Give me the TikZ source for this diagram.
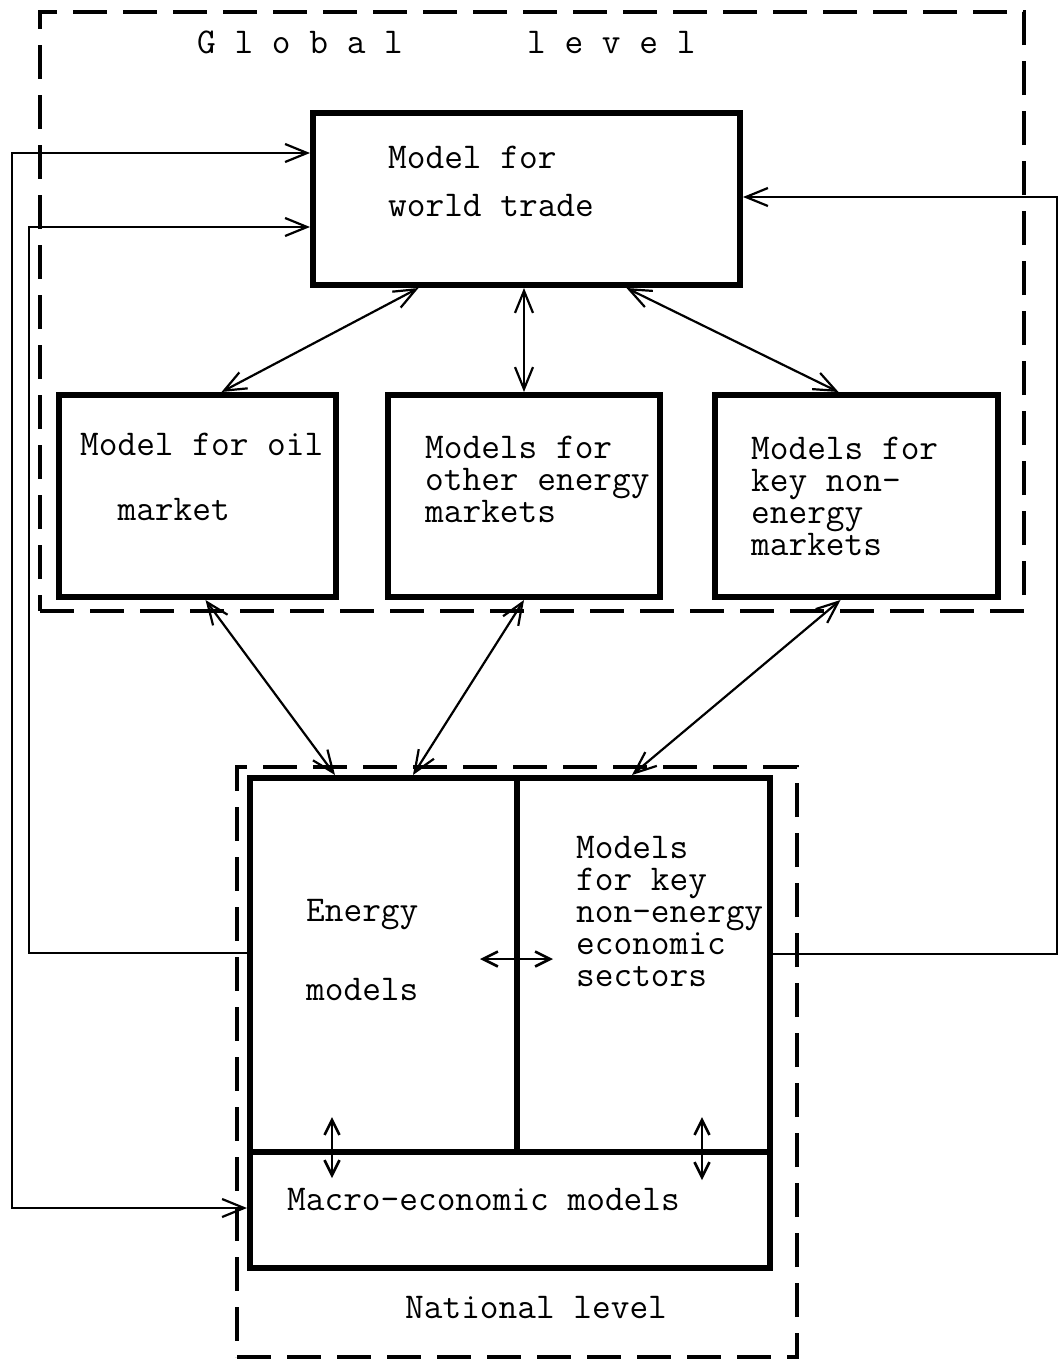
\documentclass[tikz,border=0pt]{standalone}
\usepackage{fontspec}
\usetikzlibrary{arrows.meta,calc}
\begin{document}
\begin{tikzpicture}[x=1pt,y=-1pt,
  box/.style={draw, line width=6pt, inner sep=0pt},
  dashbox/.style={draw, line width=3.5pt, dash pattern=on 34pt off 16pt, inner sep=0pt},
  conn/.style={line width=2.2pt},
  tipA/.tip={Straight Barb[length=22pt,width=18pt]},
  tipB/.tip={Straight Barb[length=15pt,width=15pt]},
  dbl/.style={conn, tipA-tipA},
  sdbl/.style={line width=2.6pt, tipB-tipB},
  one/.style={conn, -tipA},
  txt/.style={font=\ttfamily\fontsize{36.3}{#1}\selectfont, inner sep=0pt, align=left, anchor=base west},
  txt/.default=32,
]
\useasboundingbox (0,0) rectangle (1058,1361);

% dashed level frames
\node[dashbox, minimum width=984, minimum height=599] (glob) at (532,311.5) {};
\node[dashbox, minimum width=560, minimum height=590] (natd) at (517,1062) {};
\node[txt] (globA) at (197,53) {G l o b a l};
\node[txt] (globB) at (527,53) {l e v e l};
\node[txt] (natlab) at (405,1318) {National level};

% global boxes
\node[box, minimum width=427, minimum height=172] (wt) at (526.5,199) {};
\node[box, minimum width=277, minimum height=202] (oil) at (197.5,496) {};
\node[box, minimum width=272, minimum height=202] (oth) at (524,496) {};
\node[box, minimum width=283, minimum height=202] (nonen) at (856.5,496) {};

% multi-line texts: placed at the baseline of their last line
\node[txt=48] (wtt) at (388,216) {Model for\\world trade};
\node[txt=65] (oilt) at (80,520) {Model for oil\\\hphantom{Mo}market};
\node[txt] (otht) at (425,522) {Models for\\other energy\\markets};
\node[txt] (nonent) at (751,555) {Models for\\key non-\\energy\\markets};

% national box
\node[box, minimum width=520, minimum height=490] (nat) at (510,1023) {};
\coordinate (div) at (517,1152);
\draw[line width=6pt] (nat.north -| div) -- (div);
\draw[line width=6pt] (nat.west |- div) -- (nat.east |- div);

\node[txt=79] (ent) at (306,1000) {Energy\\models};
\node[txt] (sect) at (576,986) {Models\\for key\\non-energy\\economic\\sectors};
\node[txt] (macro) at (287,1210) {Macro-economic models};

% arrows between global boxes
\draw[dbl] ($(wt.south)+(-108,0)$) -- ($(oil.north)+(24,0)$);
\draw[dbl] (wt.south -| oth.north) -- (oth.north);
\draw[dbl] ($(wt.south)+(100,0)$) -- ($(nonen.north)+(-18,0)$);

% arrows global -> national
\draw[dbl] ($(oil.south)+(8,0)$) -- ($(nat.north)+(-175,0)$);
\draw[dbl] (oth.south) -- ($(nat.north)+(-97,0)$);
\draw[dbl] ($(nonen.south)+(-16,0)$) -- ($(nat.north)+(122,0)$);

% inner arrows
\coordinate (h1) at (480,959); \coordinate (h2) at (553,959);
\draw[sdbl] (h1) -- (h2);
\coordinate (v1a) at (332,1117); \coordinate (v1b) at (332,1178);
\draw[sdbl] (v1a) -- (v1b);
\coordinate (v2a) at (702,1117); \coordinate (v2b) at (702,1180);
\draw[sdbl] (v2a) -- (v2b);

% feedback connectors
\draw[dbl] (wt.west |- 0,153) -- (12,153) -- (12,1208) -- (nat.west |- 0,1208);
\draw[one] (nat.west |- 0,953) -- (29,953) -- (29,227) -- (wt.west |- 0,227);
\draw[one] (nat.east |- 0,954) -- (1057,954) -- (1057,197) -- (wt.east |- 0,197);
\end{tikzpicture}
\end{document}
